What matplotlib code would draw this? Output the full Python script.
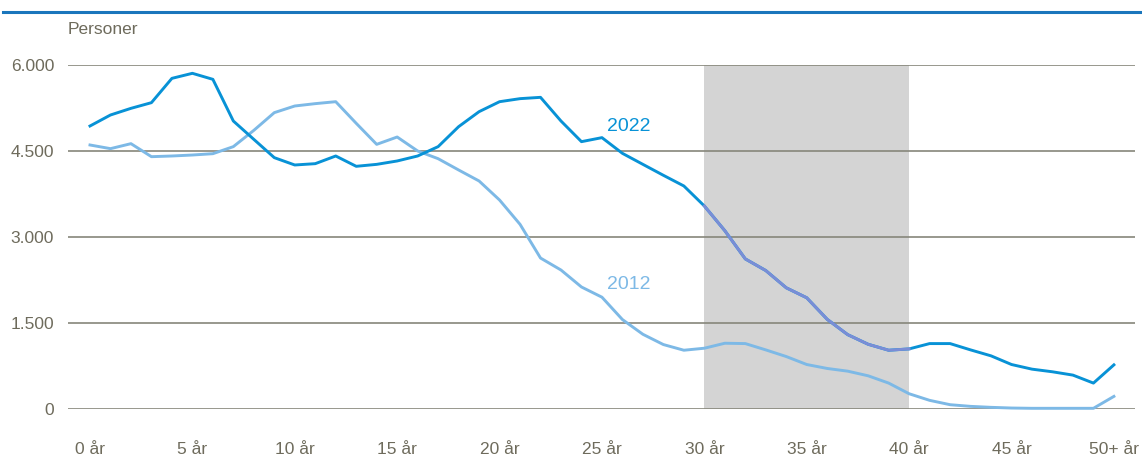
import numpy as np
import matplotlib
matplotlib.use("Agg")
import matplotlib.pyplot as plt

# age 0..50 (50 = 50+)
ages = list(range(51))

pers_2022 = [4936, 5128, 5244, 5343, 5767, 5855, 5750, 5023, 4703, 4384,
             4256, 4279, 4413, 4233, 4267, 4326, 4413, 4576, 4924, 5186,
             5360, 5413, 5436, 5023, 4663, 4733, 4459, 4267, 4076, 3890,
             3541, 3110, 2618, 2415, 2114, 1940, 1564, 1297, 1129, 1025,
             1048, 1141, 1141, 1031, 927, 776, 695, 649, 591, 452,
             770]

pers_2012 = [4605, 4541, 4628, 4401, 4413, 4430, 4453, 4576, 4860, 5169,
             5285, 5326, 5360, 4983, 4616, 4744, 4500, 4366, 4169, 3977,
             3645, 3221, 2633, 2424, 2128, 1950, 1560, 1303, 1124, 1025,
             1060, 1147, 1141, 1031, 915, 776, 707, 660, 579, 452,
             266, 151, 75, 46, 29, 17, 12, 12, 12, 12,
             220]

xtick_pos = [0, 5, 10, 15, 20, 25, 30, 35, 40, 45, 50]
xtick_lab = ["0 år", "5 år", "10 år", "15 år", "20 år", "25 år",
             "30 år", "35 år", "40 år", "45 år", "50+ år"]
ytick_pos = [0, 1500, 3000, 4500, 6000]
ytick_lab = ["0", "1.500", "3.000", "4.500", "6.000"]

band = (30, 40)

c22 = "#0892d6"
c22_band = "#7a8dd6"
c12 = "#7db9e6"
txt = "#6e6b5c"
gridc = "#86867a"

plt.rcParams["font.family"] = ["Liberation Sans", "DejaVu Sans"]

fig = plt.figure(figsize=(11.42, 4.58), dpi=100)
ax = fig.add_axes([68/1142, 49/458, 1067/1142, 344/458])

# top rule
fig.add_artist(plt.Line2D([0.003, 1], [1 - 12/458, 1 - 12/458],
                          color="#1a76bc", lw=2.2, transform=fig.transFigure))

ax.axvspan(band[0], band[1], color="#d4d4d4", lw=0, zorder=0)
for v in ytick_pos:
    ax.axhline(v, color=gridc, lw=1.2, zorder=1)

a = np.array(ages)
p22 = np.array(pers_2022)
p12 = np.array(pers_2012)

ax.plot(a, p12, color=c12, lw=2.1, zorder=3, clip_on=False)
ax.plot(a, p22, color=c22, lw=2.1, zorder=4, clip_on=False)
m = (a >= band[0]) & (a <= band[1])
ax.plot(a[m], p22[m], color=c22_band, lw=2.1, zorder=5, clip_on=False)

ax.text(26.3, 4930, "2022", color=c22, fontsize=14, ha="center", va="center")
ax.text(26.3, 2170, "2012", color=c12, fontsize=14, ha="center", va="center")

ax.set_xlim(-1.074, 51.03)
ax.set_ylim(0, 6000)
ax.set_xticks(xtick_pos)
ax.set_xticklabels(xtick_lab)
ax.set_yticks(ytick_pos)
ax.set_yticklabels(ytick_lab)
ax.tick_params(axis="x", length=0, pad=24, labelsize=12.5, labelcolor=txt)
ax.tick_params(axis="y", length=0, pad=10, labelsize=12.5, labelcolor=txt)
for s in ax.spines.values():
    s.set_visible(False)

fig.text(68/1142, 1 - 30/458, "Personer", color=txt, fontsize=12.5,
         ha="left", va="center")

fig.savefig("out.png", dpi=100)
